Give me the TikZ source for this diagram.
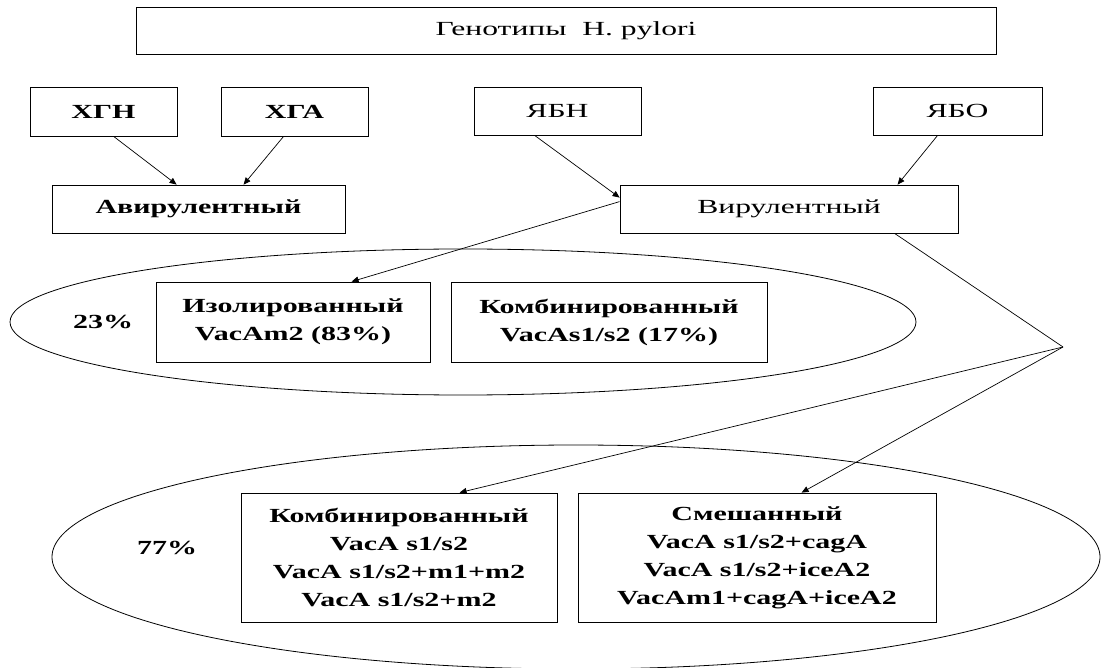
\documentclass[tikz,border=0pt]{standalone}
\usepackage{fontspec}
\setmainfont{Liberation Serif}[FakeStretch=1.5]
\newfontfamily\widereg{Liberation Serif}[FakeStretch=1.58]
\usetikzlibrary{arrows.meta,calc}
\begin{document}
\begin{tikzpicture}[x=1pt,y=-1pt,
  box/.style={draw,line width=0.8pt,rectangle,inner sep=0pt,align=center,
    font=\fontsize{20}{28}\selectfont\bfseries},
  rbox/.style={box,font=\fontsize{20}{28}\widereg},
  lbl/.style={inner sep=0pt,font=\fontsize{20}{28}\selectfont\bfseries},
  oval/.style={draw,line width=0.8pt},
  conn/.style={line width=0.7pt},
  arr/.style={conn,-{Triangle[length=7pt,width=6pt]}}]
\useasboundingbox (0,0) rectangle (1101,668);
% ellipses
\draw[oval] (463,322) ellipse [x radius=453, y radius=73];
\draw[oval] (576,557) ellipse [x radius=524, y radius=112];
% boxes
\node[rbox,minimum width=860,minimum height=47] (title) at (566,31) {Генотипы\ \ H. pylori};
\node[box,minimum width=147,minimum height=49] (xgn) at (103.5,111.5) {ХГН};
\node[box,minimum width=147,minimum height=49] (xga) at (294.5,111.5) {ХГА};
\node[rbox,minimum width=167,minimum height=48] (ybn) at (557.5,111) {ЯБН};
\node[rbox,minimum width=169,minimum height=48] (ybo) at (957.5,111) {ЯБО};
\node[box,minimum width=293,minimum height=48] (avir) at (198.5,209) {Авирулентный};
\node[rbox,minimum width=338,minimum height=48] (vir) at (789,209) {Вирулентный};
\node[box,minimum width=274,minimum height=80] (iso) at (293,322) {Изолированный\\VacAm2 (83\%)};
\node[box,minimum width=316,minimum height=80] (komb1) at (609,322) {Комбинированный\\VacAs1/s2 (17\%)};
\node[box,minimum width=316,minimum height=129] (komb2) at (399,557.5) {Комбинированный\\VacA s1/s2\\VacA s1/s2+m1+m2\\VacA s1/s2+m2};
\node[box,minimum width=358,minimum height=129] (mix) at (757,557.5) {Смешанный\\VacA s1/s2+cagA\\VacA s1/s2+iceA2\\VacAm1+cagA+iceA2};
\node[lbl] (p23) at (103,322) {23\%};
\node[lbl] (p77) at (167,548) {77\%};
\coordinate (vtx) at (1063,347);
% connectors
\draw[arr] ([xshift=84]xgn.south west) -- ([xshift=125]avir.north west);
\draw[arr] ([xshift=63]xga.south west) -- ([xshift=192]avir.north west);
\draw[arr] ([xshift=61]ybn.south west) -- ([yshift=-13]vir.north west);
\draw[arr] ([xshift=65]ybo.south west) -- ([xshift=278]vir.north west);
\draw[arr] ([yshift=-17]vir.north west) -- ([xshift=196]iso.north west);
\draw[conn] ([xshift=275]vir.south west) -- (vtx);
\draw[arr] (vtx) -- ([xshift=219]komb2.north west);
\draw[arr] (vtx) -- ([xshift=224]mix.north west);
\end{tikzpicture}
\end{document}
